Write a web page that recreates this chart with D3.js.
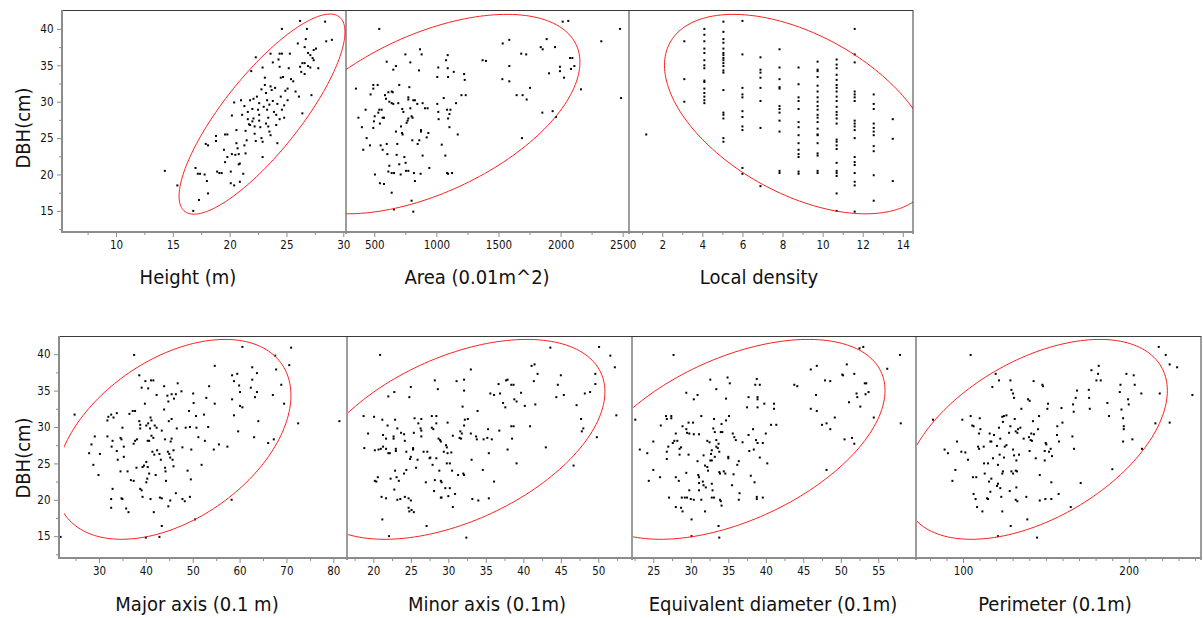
<!DOCTYPE html>
<html><head><meta charset="utf-8">
<script src="https://cdn.jsdelivr.net/npm/d3@7"></script>
<style>
body{margin:0;background:#fff}
svg{display:block}
text{font-family:"DejaVu Sans Condensed","DejaVu Sans",sans-serif;fill:#111}
</style>
</head><body>
<svg id="c" width="1203" height="618"></svg>
<script>
// ---------------- DATA ----------------
const dbhTicks = [15, 20, 25, 30, 35, 40];
const dbhMinor = [12.5, 17.5, 22.5, 27.5, 32.5, 37.5];

const heightTicks = [10, 15, 20, 25, 30];
const heightMinor = [7.5, 12.5, 17.5, 22.5, 27.5];
const areaTicks = [500, 1000, 1500, 2000, 2500];
const areaMinor = [750, 1250, 1750, 2250];
const densityTicks = [2, 4, 6, 8, 10, 12, 14];
const densityMinor = [1, 3, 5, 7, 9, 11, 13];
const majorTicks = [30, 40, 50, 60, 70, 80];
const majorMinor = [25, 35, 45, 55, 65, 75];
const minorTicks = [20, 25, 30, 35, 40, 45, 50];
const minorMinor = [17.5, 22.5, 27.5, 32.5, 37.5, 42.5, 47.5, 52.5];
const equivTicks = [25, 30, 35, 40, 45, 50, 55];
const equivMinor = [22.5, 27.5, 32.5, 37.5, 42.5, 47.5, 52.5, 57.5];
const perimTicks = [100, 200];
const perimMinor = [80, 90, 110, 120, 130, 140, 150, 160, 170, 180, 190, 210, 220, 230, 240];

// ellipse: [meanX, meanY, halfRangeX, halfRangeY, correlation]
const heightEllipse = [22.85, 28.3, 7.3, 13.75, 0.82];
const areaEllipse = [927, 28.3, 1229, 13.7, 0.52];
const densityEllipse = [8.84, 28.3, 6.73, 13.7, -0.49];
const majorEllipse = [45.86, 28.3, 25.1, 13.73, 0.44];
const minorEllipse = [30.98, 28.3, 19.9, 13.73, 0.476];
const equivEllipse = [35.8, 28.3, 20.1, 13.73, 0.49];
const perimEllipse = [143.75, 28.3, 79.55, 13.73, 0.487];

const heightPts = [[14.3,20.5],[15.4,18.5],[16.8,15.0],[17.3,16.5],[18.1,17.4],[17.2,20.1],[17.4,20.1],[17.0,20.9],[17.8,20.0],[18.0,19.1],[17.9,24.2],[18.1,24.0],[18.8,25.3],[18.8,24.6],[18.9,20.4],[19.1,20.2],[19.3,20.2],[19.5,23.4],[19.6,21.7],[19.8,22.4],[19.6,25.5],[19.8,25.5],[20.1,20.4],[20.1,18.8],[20.4,18.5],[20.2,22.8],[20.5,22.7],[20.2,28.1],[20.4,29.9],[20.6,26.1],[20.6,24.3],[20.7,23.6],[20.8,22.8],[20.8,21.4],[20.9,21.5],[20.9,19.0],[21.0,30.2],[21.1,28.2],[21.3,29.4],[21.2,20.1],[21.3,24.0],[21.5,24.7],[21.4,22.9],[21.6,28.6],[21.6,27.6],[21.7,26.9],[21.8,26.8],[21.8,30.2],[21.9,34.2],[22.0,29.0],[22.1,30.4],[22.1,27.7],[22.2,26.6],[22.2,25.6],[22.3,24.6],[22.3,36.1],[22.4,30.7],[22.6,29.8],[22.6,28.2],[22.6,27.4],[22.7,26.5],[22.8,25.0],[22.9,24.5],[22.9,22.4],[22.9,34.7],[23.1,32.3],[23.1,33.3],[23.2,31.2],[23.3,30.2],[23.3,28.9],[23.4,27.8],[23.4,26.6],[23.5,25.9],[23.6,25.4],[23.6,32.1],[23.7,31.6],[23.6,36.6],[23.8,35.4],[23.9,28.6],[24.1,28.2],[24.1,26.8],[24.2,29.7],[24.2,24.3],[24.3,35.8],[24.4,34.8],[24.4,36.6],[24.6,36.6],[24.5,33.3],[24.7,33.4],[24.5,30.7],[24.6,28.9],[24.8,29.5],[24.6,40.0],[24.8,27.8],[24.9,31.5],[25.1,31.8],[25.1,30.2],[25.2,34.6],[25.3,36.6],[25.4,33.1],[25.6,32.8],[25.8,31.4],[26.0,38.0],[26.2,34.8],[26.2,41.1],[26.4,35.3],[26.3,34.1],[26.6,35.3],[26.6,33.8],[26.6,37.5],[26.9,36.7],[26.1,30.7],[26.4,28.4],[26.7,38.6],[26.8,40.0],[26.9,34.9],[27.1,34.7],[27.1,36.4],[27.3,36.0],[27.4,35.7],[27.2,30.9],[27.4,37.1],[27.6,37.3],[27.8,34.6],[28.4,41.0],[28.5,38.3],[29.0,38.5],[22.0,27.3],[22.5,28.9],[23.0,29.3],[23.2,27.0],[23.8,30.1],[24.0,31.9],[21.4,26.0],[22.8,31.7],[23.5,29.6],[24.4,27.6]];

const areaPts = [[540,40.0],[352,31.8],[372,27.8],[400,26.5],[411,23.4],[430,28.9],[438,25.0],[465,24.0],[470,31.0],[492,32.3],[492,31.8],[492,26.4],[503,28.0],[497,27.3],[505,20.0],[545,18.8],[527,32.3],[532,28.5],[540,28.9],[559,28.9],[545,27.0],[567,27.8],[578,27.8],[551,24.0],[567,23.4],[578,18.7],[586,30.9],[594,30.4],[613,31.3],[600,35.5],[600,24.2],[605,22.8],[613,20.4],[621,21.2],[621,30.0],[640,29.8],[653,29.7],[640,31.4],[648,31.3],[640,20.2],[659,20.2],[640,17.5],[653,34.4],[674,34.9],[658,15.2],[674,25.9],[685,24.2],[680,22.7],[693,29.8],[701,32.3],[701,21.4],[712,20.0],[715,26.6],[723,25.7],[728,25.5],[725,29.0],[734,28.6],[742,22.4],[752,21.6],[750,36.5],[755,20.5],[774,20.5],[760,27.1],[768,27.4],[774,27.7],[774,30.3],[774,30.6],[782,32.0],[790,35.4],[790,29.1],[800,28.0],[808,27.8],[814,30.2],[800,16.4],[806,24.7],[814,14.9],[819,20.2],[827,19.1],[827,30.2],[846,29.7],[849,24.2],[862,24.7],[860,34.3],[868,37.2],[881,36.5],[873,20.1],[876,26.1],[876,25.9],[889,29.8],[889,22.6],[908,29.1],[929,29.1],[922,25.1],[935,25.7],[943,20.9],[1007,29.7],[1015,28.6],[1018,27.6],[1007,33.4],[1015,34.7],[1043,24.1],[1059,30.5],[1072,22.6],[1078,35.7],[1091,36.4],[1086,20.2],[1094,20.1],[1086,28.9],[1105,28.3],[1113,28.9],[1094,27.7],[1091,34.6],[1094,33.4],[1105,26.5],[1126,20.2],[1140,34.1],[1158,29.8],[1172,25.5],[1202,30.9],[1223,33.8],[1228,33.0],[1236,30.9],[1372,35.7],[1399,35.6],[1534,38.0],[1587,38.5],[1531,33.1],[1587,32.8],[1587,34.9],[1646,30.9],[1694,30.9],[1727,30.3],[1683,36.6],[1723,36.5],[1689,25.0],[1754,31.9],[1840,37.5],[1856,37.2],[1888,38.6],[1907,33.9],[1853,28.5],[1936,28.7],[1955,37.5],[1963,27.9],[1995,34.8],[1995,34.2],[2017,41.0],[2062,41.1],[2028,33.3],[2076,36.0],[2095,36.0],[2084,34.5],[2111,34.9],[2164,31.7],[2328,38.3],[2479,40.0],[2487,30.5]];

// local density takes discrete values: [density, [DBH values...]]
const densityCols = [
  [1.2, [25.5]],
  [3.1, [38.3, 33.1, 30.0]],
  [4.1, [40.0, 39.2, 38.3, 37.3, 36.7, 35.7, 35.0, 34.6, 32.9, 32.7, 31.8, 31.2, 30.7, 30.2, 29.8]],
  [5.05, [41.0, 39.6, 38.6, 38.1, 37.3, 36.7, 36.4, 36.0, 35.7, 35.3, 34.9, 34.3, 34.0, 31.6, 28.5, 28.2, 27.7, 25.0, 24.5]],
  [6.0, [41.1, 36.5, 31.9, 31.0, 30.6, 28.7, 27.9, 26.6, 26.1, 20.9, 20.1]],
  [6.9, [36.1, 34.4, 34.0, 33.3, 31.9, 30.1, 26.4, 18.4]],
  [7.85, [37.2, 34.7, 33.1, 32.0, 31.8, 29.4, 29.0, 28.5, 27.4, 25.9, 20.5, 20.2]],
  [8.8, [34.7, 32.4, 30.6, 30.1, 29.0, 27.2, 26.5, 25.4, 24.3, 23.4, 22.8, 22.4, 20.4, 20.1]],
  [9.75, [35.5, 34.4, 34.2, 33.4, 32.2, 31.4, 30.6, 30.0, 29.4, 28.9, 28.2, 27.8, 27.2, 26.3, 25.5, 24.3, 25.4, 22.9, 22.6, 20.5, 20.2]],
  [10.7, [35.8, 35.1, 34.6, 33.7, 33.0, 32.3, 31.9, 31.4, 30.7, 30.1, 29.3, 28.6, 28.2, 27.7, 27.0, 24.8, 24.5, 24.0, 23.5, 21.6, 20.5, 20.2, 19.8, 17.4, 15.0]],
  [11.6, [40.0, 36.5, 35.4, 31.4, 31.0, 30.6, 30.1, 27.4, 27.0, 26.6, 26.1, 25.0, 22.4, 21.7, 21.3, 20.2, 19.0, 18.5, 14.9]],
  [12.55, [31.0, 29.7, 29.0, 27.0, 26.4, 25.9, 25.4, 23.9, 23.2, 19.9, 16.4]],
  [13.5, [27.6, 24.9, 19.1]]
];

const majorPts = [[21.8,14.9],[24.8,31.7],[27.9,26.4],[28.4,27.6],[29.1,28.7],[28.8,24.8],[29.9,23.4],[30.2,26.3],[31.8,30.9],[32.0,31.4],[31.8,28.7],[32.6,31.7],[33.1,31.3],[33.8,31.9],[32.7,27.3],[32.9,28.1],[32.6,20.1],[32.6,18.9],[32.9,21.5],[33.8,26.7],[34.0,25.5],[34.6,28.5],[34.8,28.3],[34.6,23.9],[34.8,20.2],[35.0,20.1],[35.0,29.9],[35.3,27.3],[35.3,25.9],[35.8,18.8],[36.3,18.3],[36.1,23.9],[36.5,31.8],[37.2,32.2],[37.7,32.2],[36.8,22.7],[37.4,22.6],[37.4,27.7],[37.7,28.1],[38.1,28.3],[37.5,39.9],[38.0,24.4],[38.6,37.1],[39.1,35.4],[38.6,30.8],[38.8,30.3],[38.8,29.8],[38.8,21.5],[39.1,21.3],[39.3,20.4],[39.3,24.5],[39.6,24.7],[39.8,33.2],[39.9,36.3],[40.5,35.3],[40.1,30.2],[40.5,30.5],[40.9,29.8],[40.1,25.2],[40.4,24.5],[40.7,23.6],[40.1,22.4],[40.3,22.9],[40.0,14.8],[40.4,28.1],[40.7,28.1],[41.0,31.3],[41.2,30.9],[41.0,20.1],[41.1,36.4],[41.6,36.4],[41.2,28.8],[41.6,28.5],[41.4,26.6],[41.8,26.2],[41.7,18.3],[41.9,30.2],[42.3,29.9],[42.1,23.4],[42.3,34.4],[42.4,26.8],[42.9,26.3],[43.2,25.5],[43.0,20.3],[43.4,20.2],[43.4,16.4],[42.9,14.9],[43.4,29.5],[43.9,35.6],[43.9,32.4],[44.1,24.4],[44.2,23.9],[44.3,22.6],[44.1,28.3],[44.6,34.3],[44.8,33.5],[44.7,26.6],[45.0,26.3],[45.2,25.8],[44.8,19.1],[45.2,19.9],[44.9,30.8],[45.5,31.1],[45.3,28.0],[45.5,28.4],[45.5,34.5],[46.0,33.9],[46.4,34.5],[45.7,25.5],[45.9,24.6],[45.9,26.8],[46.4,20.9],[46.6,29.8],[46.8,36.0],[47.6,34.9],[47.8,27.2],[47.8,20.1],[48.3,19.8],[48.5,29.9],[48.9,24.0],[49.2,32.2],[49.4,30.0],[49.6,22.8],[49.4,20.4],[49.7,26.9],[50.1,34.6],[50.2,33.3],[50.5,17.3],[50.7,31.5],[50.8,29.9],[51.2,28.6],[51.9,24.8],[52.6,28.1],[52.4,31.7],[52.9,34.0],[53.3,30.0],[53.5,35.6],[54.5,26.9],[54.7,33.2],[54.7,38.4],[55.6,27.6],[57.4,27.3],[58.3,20.0],[58.4,37.1],[58.8,36.3],[58.4,33.8],[58.8,31.6],[59.5,37.3],[59.9,35.7],[60.1,34.8],[59.7,29.4],[60.1,32.9],[60.6,32.7],[60.6,41.0],[62.4,35.4],[62.7,38.2],[62.7,36.5],[63.1,28.6],[63.3,34.1],[63.7,34.8],[63.7,37.4],[64.0,30.8],[66.1,27.8],[67.1,34.4],[67.3,28.3],[67.6,39.8],[67.8,37.9],[68.9,35.8],[69.5,33.2],[70.6,38.5],[71.0,40.9],[72.5,30.5],[81.3,30.8]];

const minorPts = [[20.9,39.9],[18.7,31.5],[18.8,27.1],[19.3,29.1],[20.1,31.4],[20.2,26.8],[20.7,26.9],[20.2,22.6],[20.4,22.5],[20.6,23.1],[21.1,20.4],[21.7,20.2],[21.2,17.3],[22.1,15.0],[21.2,31.0],[21.3,28.9],[21.0,27.0],[21.3,27.3],[21.7,27.0],[22.0,26.4],[22.2,26.4],[22.0,34.2],[22.8,34.8],[21.9,30.2],[21.7,28.4],[22.7,28.4],[22.3,22.9],[22.8,21.4],[22.7,28.7],[22.9,31.0],[22.9,24.0],[23.1,23.1],[23.0,27.0],[23.0,26.7],[23.2,20.0],[23.6,20.1],[23.4,22.6],[23.2,29.8],[23.7,29.2],[24.1,29.0],[24.1,23.6],[24.4,24.1],[24.2,28.1],[24.4,26.6],[24.2,20.4],[24.7,20.2],[24.7,18.9],[24.8,18.4],[25.1,18.6],[25.4,18.3],[24.8,34.1],[25.0,35.5],[24.9,25.6],[25.0,19.9],[25.0,25.9],[25.3,26.9],[25.3,27.1],[25.4,29.2],[25.5,31.2],[26.0,30.5],[26.4,31.1],[25.7,24.4],[25.9,25.5],[26.3,29.8],[26.4,29.5],[26.4,28.7],[26.7,26.6],[27.2,26.6],[27.0,22.4],[27.1,16.4],[27.5,25.7],[27.6,25.8],[27.8,31.5],[27.8,29.9],[28.0,29.7],[27.9,24.8],[28.1,21.2],[28.2,22.7],[28.2,36.4],[28.6,35.2],[28.4,31.5],[28.4,30.5],[28.4,25.7],[28.7,28.4],[28.9,28.2],[29.0,28.0],[28.8,24.0],[29.0,22.6],[29.1,22.4],[29.0,20.3],[29.1,20.3],[29.4,26.6],[29.7,27.5],[29.8,27.2],[29.6,21.6],[29.8,25.0],[29.9,30.6],[29.9,26.4],[30.0,20.5],[30.2,21.6],[30.2,25.0],[30.4,26.5],[30.5,24.0],[30.6,19.0],[30.9,20.8],[30.6,28.8],[31.1,36.3],[31.3,23.4],[31.5,28.5],[31.6,29.4],[31.7,28.4],[31.8,29.1],[31.9,32.8],[32.1,35.0],[32.1,36.5],[32.0,23.6],[32.1,23.4],[32.1,30.2],[32.2,31.0],[32.4,14.8],[32.6,31.1],[33.0,37.9],[33.0,29.1],[33.1,25.5],[33.2,20.1],[33.7,28.7],[33.8,28.3],[33.9,32.2],[34.0,19.9],[34.6,24.1],[34.7,28.3],[35.2,28.5],[35.4,26.4],[35.3,29.7],[35.4,20.2],[35.6,34.6],[36.1,34.4],[35.8,28.3],[36.1,22.5],[36.7,35.9],[36.9,34.6],[36.8,29.5],[37.3,33.3],[37.6,32.7],[37.7,36.4],[37.9,36.5],[37.9,26.9],[38.4,35.8],[38.7,35.8],[38.4,30.1],[38.7,30.1],[38.5,28.4],[38.8,33.8],[39.1,33.5],[39.1,25.0],[39.7,34.7],[40.2,32.9],[40.9,30.1],[41.1,38.4],[41.5,38.6],[41.4,36.3],[41.6,33.1],[41.9,37.3],[43.0,27.2],[43.6,40.9],[44.4,34.1],[44.6,35.8],[45.0,37.1],[45.4,34.4],[46.7,24.7],[47.1,33.0],[47.7,31.1],[47.8,29.4],[48.0,29.8],[48.2,34.6],[48.9,34.8],[49.6,37.3],[49.6,35.9],[49.8,28.6],[50.1,41.0],[51.6,39.8],[52.2,38.2],[52.4,31.6]];

const equivPts = [[27.7,39.9],[22.6,31.0],[23.2,26.9],[24.2,26.4],[24.4,22.6],[25.0,24.1],[25.0,28.0],[25.9,23.1],[26.0,30.2],[26.7,31.5],[26.8,31.1],[27.4,31.5],[27.4,31.2],[26.8,26.6],[26.8,25.6],[27.0,27.3],[27.1,20.3],[27.6,27.8],[27.8,28.1],[28.0,29.1],[28.0,23.1],[28.4,22.6],[28.0,19.0],[28.7,18.9],[28.9,18.4],[28.2,28.1],[28.5,27.0],[28.7,27.2],[28.5,26.2],[28.9,30.1],[29.4,29.7],[29.5,29.2],[28.8,20.3],[29.2,20.3],[29.5,20.3],[29.4,23.7],[29.4,34.7],[29.7,30.6],[30.3,30.6],[29.7,26.2],[29.8,29.1],[29.8,21.3],[30.0,20.1],[30.4,20.0],[30.1,17.3],[30.1,15.0],[30.4,33.8],[30.4,29.0],[30.9,34.4],[30.9,25.3],[31.0,23.4],[31.1,23.1],[31.1,22.3],[31.1,29.0],[31.1,21.3],[31.4,31.5],[31.4,20.0],[31.6,22.5],[31.7,22.0],[31.7,26.1],[31.9,18.4],[31.9,24.7],[32.2,24.5],[32.0,21.7],[32.2,28.1],[32.5,27.9],[32.3,24.0],[32.6,36.5],[32.6,25.4],[32.8,25.4],[32.7,26.3],[32.8,26.8],[32.8,22.2],[32.9,21.3],[32.8,20.3],[33.1,20.3],[33.0,29.8],[33.2,29.3],[33.1,31.1],[33.2,25.9],[33.4,27.3],[33.6,27.1],[33.4,35.2],[33.4,28.2],[33.7,27.7],[33.8,26.6],[33.8,23.8],[33.9,23.6],[33.7,16.4],[33.8,14.8],[33.9,20.0],[34.0,19.8],[34.1,19.2],[34.0,29.3],[34.2,29.3],[34.1,30.4],[34.4,23.9],[34.6,23.6],[34.7,30.9],[34.7,33.9],[34.9,36.8],[35.2,36.0],[35.0,25.9],[35.0,25.7],[35.1,31.5],[35.5,22.0],[35.6,29.1],[35.7,23.5],[35.8,28.6],[36.0,28.2],[36.2,24.8],[36.4,25.3],[36.4,20.0],[36.5,20.9],[36.9,27.9],[37.5,32.7],[37.7,34.1],[37.7,28.9],[37.8,26.7],[38.0,23.3],[38.3,29.7],[38.4,26.9],[38.5,22.4],[38.6,35.8],[38.8,36.6],[38.7,28.2],[38.9,27.8],[38.8,20.4],[38.8,20.1],[38.9,34.1],[38.9,33.8],[38.9,32.7],[39.2,35.8],[39.2,25.8],[39.6,27.8],[39.6,20.3],[39.8,33.2],[40.0,29.1],[40.2,25.0],[40.7,30.3],[41.4,30.3],[41.1,32.5],[41.1,33.2],[43.8,35.8],[44.2,35.6],[46.0,37.9],[46.0,32.5],[46.7,34.4],[46.8,38.4],[46.8,32.2],[47.5,30.3],[47.9,36.4],[48.6,36.3],[48.1,30.5],[48.6,29.7],[48.1,24.1],[49.2,31.3],[50.2,37.2],[50.3,37.1],[50.5,28.3],[50.8,38.6],[51.1,33.4],[51.5,28.5],[51.8,27.7],[51.8,37.3],[52.1,34.6],[52.2,34.1],[52.5,40.8],[53.0,41.0],[52.6,32.8],[53.2,36.0],[53.4,36.0],[53.3,34.5],[53.7,34.8],[54.4,31.3],[56.2,38.0],[57.9,39.9],[58.0,30.5]];

const perimPts = [[104.6,39.9],[81.9,31.0],[88.9,26.9],[90.9,26.4],[93.6,22.6],[95.4,24.1],[96.4,28.0],[99.0,26.6],[101.4,26.5],[99.6,31.0],[103.0,25.5],[104.6,31.5],[105.6,30.2],[106.4,30.1],[106.0,23.1],[108.0,23.1],[106.4,20.8],[107.6,20.1],[108.5,19.0],[109.1,27.3],[109.7,27.0],[109.7,29.1],[110.5,29.7],[110.1,31.2],[111.7,18.4],[112.5,27.3],[112.7,25.0],[113.1,23.6],[114.5,20.2],[115.1,20.1],[116.5,21.1],[115.1,25.0],[115.7,22.5],[116.1,29.1],[117.1,28.0],[118.7,28.9],[116.5,28.0],[117.1,22.9],[117.7,35.5],[118.1,25.7],[119.7,37.3],[120.5,27.4],[120.5,21.9],[121.1,22.2],[121.1,24.8],[121.1,15.0],[121.7,36.4],[121.7,29.9],[122.5,28.4],[122.1,26.2],[122.5,21.6],[123.1,20.4],[123.7,31.4],[124.1,30.7],[124.7,31.5],[126.2,31.6],[123.7,23.6],[124.1,23.9],[123.7,18.4],[124.7,25.8],[125.2,27.3],[126.2,27.5],[127.8,29.2],[128.6,30.1],[128.2,21.2],[128.6,36.4],[128.8,16.4],[129.2,23.9],[130.2,23.6],[129.2,35.1],[130.2,34.6],[130.8,34.0],[130.2,26.9],[130.8,26.1],[131.2,31.1],[131.8,29.4],[132.8,29.2],[133.2,29.7],[131.8,24.0],[132.6,23.9],[131.8,20.0],[132.8,19.8],[132.2,21.7],[132.2,25.4],[133.8,26.2],[134.6,29.9],[135.2,32.5],[136.6,28.4],[138.2,20.4],[138.8,17.3],[139.2,33.8],[140.2,33.6],[139.8,28.6],[140.8,28.2],[141.6,28.1],[140.2,26.7],[141.2,29.1],[142.2,30.8],[142.8,29.0],[142.6,36.3],[143.9,25.7],[144.7,14.8],[145.3,29.7],[145.9,31.5],[146.3,19.9],[146.3,23.4],[147.9,35.8],[148.3,35.6],[149.3,25.4],[149.3,26.7],[149.9,27.8],[149.7,20.1],[150.3,27.6],[150.9,32.5],[151.3,33.2],[151.9,26.6],[152.9,27.0],[153.7,26.0],[153.3,22.4],[153.3,20.1],[156.7,28.9],[157.9,28.0],[156.9,30.1],[157.7,20.8],[159.4,32.6],[160.0,30.6],[165.0,19.0],[166.0,28.7],[166.4,33.1],[166.8,32.1],[167.0,27.0],[168.0,34.0],[168.8,35.0],[171.0,22.3],[175.9,35.1],[176.1,34.0],[176.5,32.5],[177.5,37.8],[181.5,37.3],[180.5,36.4],[183.1,36.4],[181.9,38.4],[187.1,33.3],[188.1,31.5],[190.1,24.2],[194.6,34.8],[195.0,35.8],[195.6,32.4],[196.6,31.2],[197.0,30.1],[197.0,29.7],[196.6,28.0],[198.6,37.3],[199.6,33.8],[200.0,33.1],[202.2,28.3],[203.0,37.1],[203.6,35.8],[207.6,34.6],[208.0,27.0],[216.1,30.5],[218.1,41.0],[218.7,34.6],[222.3,39.9],[224.7,38.6],[224.7,30.6],[229.2,38.2],[238.4,34.4]];

const densityPts = densityCols.flatMap(([d, ys]) => ys.map(y => [d, y]));

// ---------------- LAYOUT ----------------
const rows = [
  {top: 10, bottom: 232, left: 62, right: 913, yDom: [12.1, 42.6], labelY: 128},
  {top: 336, bottom: 558, left: 59, right: 1201, yDom: [12.0, 42.5], labelY: 458}
];
const panels = [
  {row: 0, x0: 62, x1: 346, ex0: 62, dom: [5.25, 30.24], pts: heightPts, ticks: heightTicks, minor: heightMinor, ell: heightEllipse, title: "Height (m)", tx: 188},
  {row: 0, x0: 346, x1: 629, ex0: 346, dom: [272, 2551], pts: areaPts, ticks: areaTicks, minor: areaMinor, ell: areaEllipse, title: "Area (0.01m^2)", tx: 477},
  {row: 0, x0: 629, x1: 913, ex0: 629, dom: [0.34, 14.51], pts: densityPts, ticks: densityTicks, minor: densityMinor, ell: densityEllipse, title: "Local density", tx: 759},
  {row: 1, x0: 59, x1: 347, ex0: 64, dom: [21.47, 82.92], pts: majorPts, ticks: majorTicks, minor: majorMinor, ell: majorEllipse, title: "Major axis (0.1 m)", tx: 197},
  {row: 1, x0: 347, x1: 632, ex0: 348, dom: [16.49, 54.49], pts: minorPts, ticks: minorTicks, minor: minorMinor, ell: minorEllipse, title: "Minor axis (0.1m)", tx: 487},
  {row: 1, x0: 632, x1: 916, ex0: 633, dom: [22.16, 60.03], pts: equivPts, ticks: equivTicks, minor: equivMinor, ell: equivEllipse, title: "Equivalent diameter (0.1m)", tx: 773},
  {row: 1, x0: 916, x1: 1201, ex0: 917, dom: [71.64, 243.6], pts: perimPts, ticks: perimTicks, minor: perimMinor, ell: perimEllipse, title: "Perimeter (0.1m)", tx: 1055}
];

const AXIS = "#8c8c8c", BORDER = "#3a3a3a";
const svg = d3.select("#c");
const defs = svg.append("defs");
const angles = d3.range(0, 361, 2).map(a => a * Math.PI / 180);

rows.forEach((R) => {
  const y = d3.scaleLinear().domain(R.yDom).range([R.bottom, R.top]);
  R.y = y;
  const g = svg.append("g");
  const ya = g.append("g").attr("transform", `translate(${R.left},0)`)
    .call(d3.axisLeft(y).tickValues(dbhTicks).tickSize(5).tickPadding(3.5).tickFormat(d3.format("d")));
  const ym = g.append("g").attr("transform", `translate(${R.left},0)`)
    .call(d3.axisLeft(y).tickValues(dbhMinor).tickSize(3).tickFormat(""));
  [ya, ym].forEach(a => { a.select(".domain").remove(); a.selectAll("line").attr("stroke", AXIS); });
  ya.selectAll("text").style("font-size", "11.5px").attr("fill", "#111");
  svg.append("text")
    .attr("transform", `translate(30,${R.labelY}) rotate(-90)`)
    .attr("text-anchor", "middle").style("font-size", "20px").text("DBH(cm)");
});

panels.forEach((P, pi) => {
  const R = rows[P.row];
  const y = R.y;
  const x = d3.scaleLinear().domain(P.dom).range([P.x0, P.x1]);
  const cid = "clip" + pi, eid = "eclip" + pi;
  defs.append("clipPath").attr("id", cid).append("rect")
    .attr("x", P.x0).attr("y", R.top).attr("width", P.x1 - P.x0).attr("height", R.bottom - R.top);
  defs.append("clipPath").attr("id", eid).append("rect")
    .attr("x", P.ex0).attr("y", R.top).attr("width", P.x1 - P.ex0).attr("height", R.bottom - R.top);
  const g = svg.append("g");
  const xa = g.append("g").attr("transform", `translate(0,${R.bottom})`)
    .call(d3.axisBottom(x).tickValues(P.ticks).tickSize(5).tickPadding(4.3).tickFormat(d3.format("d")));
  const xm = g.append("g").attr("transform", `translate(0,${R.bottom})`)
    .call(d3.axisBottom(x).tickValues(P.minor).tickSize(3).tickFormat(""));
  [xa, xm].forEach(a => { a.select(".domain").remove(); a.selectAll("line").attr("stroke", AXIS); });
  xa.selectAll("text").style("font-size", "11.5px").attr("fill", "#111");
  // points
  g.append("g").attr("clip-path", `url(#${cid})`)
    .selectAll("rect").data(P.pts).join("rect")
    .attr("x", d => x(d[0]) - 1).attr("y", d => y(d[1]) - 1)
    .attr("width", 2).attr("height", 2).attr("fill", "#000");
  // ellipse
  const [mx, my, sx, sy, r] = P.ell;
  const s = Math.sqrt(1 - r * r);
  const ellPts = angles.map(t => [mx + sx * Math.cos(t), my + sy * (r * Math.cos(t) + s * Math.sin(t))]);
  g.append("g").attr("clip-path", `url(#${eid})`).append("path").datum(ellPts)
    .attr("d", d3.line().x(d => x(d[0])).y(d => y(d[1])).curve(d3.curveLinearClosed))
    .attr("fill", "none").attr("stroke", "#ff1f1f").attr("stroke-width", 1);
  // title
  svg.append("text").attr("x", P.tx).attr("y", P.row === 0 ? 284 : 611)
    .attr("text-anchor", "middle").style("font-size", "20px").text(P.title);
  // right border / divider
  svg.append("line").attr("x1", P.x1).attr("x2", P.x1).attr("y1", R.top).attr("y2", R.bottom + 2)
    .attr("stroke", BORDER).attr("stroke-width", 1);
});

rows.forEach(R => {
  svg.append("line").attr("x1", R.left).attr("x2", R.right).attr("y1", R.top + 0.5).attr("y2", R.top + 0.5)
    .attr("stroke", BORDER).attr("stroke-width", 1);
  svg.append("line").attr("x1", R.left).attr("x2", R.left).attr("y1", R.top).attr("y2", R.bottom + 1)
    .attr("stroke", AXIS).attr("stroke-width", 2);
  svg.append("line").attr("x1", R.left - 1).attr("x2", R.right).attr("y1", R.bottom).attr("y2", R.bottom)
    .attr("stroke", AXIS).attr("stroke-width", 2);
});
</script>
</body></html>
